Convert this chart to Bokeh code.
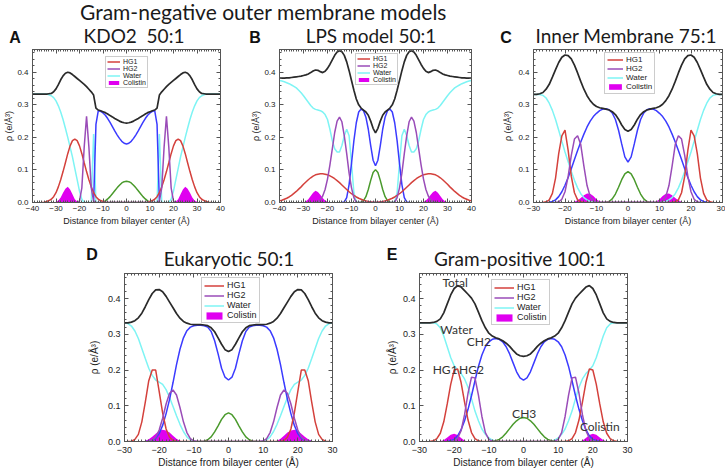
from bokeh.plotting import figure
from bokeh.models import (Range1d, SingleIntervalTicker, LinearAxis, PrintfTickFormatter,
                          Label, Legend, LegendItem, Div, Spacer)
from bokeh.layouts import column, row
from bokeh.embed import file_html
from bokeh.resources import INLINE

# ---------------------------------------------------------------------------
# Electron-density half profiles (symmetric about the bilayer centre).
# Each list is sampled every 1 Å starting at the given x0 (Å).
# ---------------------------------------------------------------------------
# Panel A : KDO2 50:1
A_TOTAL = (0, [0.244, 0.245, 0.247, 0.250, 0.254, 0.258, 0.263, 0.267, 0.272, 0.276, 0.279,
               0.282, 0.284, 0.290, 0.330, 0.340, 0.348, 0.356, 0.363, 0.369, 0.375, 0.381,
               0.387, 0.393, 0.398, 0.400, 0.397, 0.389, 0.377, 0.362, 0.349, 0.340, 0.335,
               0.334, 0.333, 0.333, 0.333, 0.333, 0.333, 0.333, 0.333])
A_CH2 = (0, [0.180, 0.182, 0.188, 0.197, 0.208, 0.220, 0.233, 0.246, 0.258, 0.268, 0.275,
             0.280, 0.282, 0.240, 0.0])
A_CH3 = (0, [0.065, 0.064, 0.060, 0.053, 0.045, 0.036, 0.027, 0.018, 0.011, 0.005, 0.002, 0.0])
A_HG1 = (9, [0.0, 0.003, 0.006, 0.010, 0.018, 0.030, 0.048, 0.070, 0.095, 0.122, 0.150, 0.174,
             0.190, 0.195, 0.190, 0.174, 0.150, 0.122, 0.095, 0.070, 0.048, 0.030, 0.018,
             0.010, 0.006, 0.003, 0.001, 0.0])
A_HG2 = (13, [0.0, 0.004, 0.045, 0.170, 0.265, 0.170, 0.045, 0.004, 0.0])
A_WATER = (12, [0.0, 0.0, 0.210, 0.0, 0.0, 0.0, 0.0, 0.010, 0.035, 0.070, 0.105, 0.140, 0.170,
                0.200, 0.228, 0.255, 0.278, 0.297, 0.312, 0.322, 0.328, 0.331, 0.333, 0.333,
                0.333, 0.333, 0.333, 0.333, 0.333])
A_COL = (20, [0.0, 0.003, 0.010, 0.025, 0.040, 0.048, 0.042, 0.030, 0.015, 0.006, 0.002, 0.0])

# Panel B : LPS model 50:1
B_TOTAL = (0, [0.214, 0.228, 0.250, 0.268, 0.278, 0.284, 0.290, 0.300, 0.318, 0.345, 0.375,
               0.405, 0.432, 0.452, 0.463, 0.466, 0.462, 0.452, 0.438, 0.424, 0.412, 0.403,
               0.399, 0.402, 0.406, 0.407, 0.404, 0.399, 0.395, 0.392, 0.390, 0.388, 0.387,
               0.386, 0.385, 0.384, 0.383, 0.383, 0.382, 0.382, 0.382])
B_CH2 = (0, [0.113, 0.130, 0.175, 0.225, 0.262, 0.282, 0.287, 0.278, 0.245, 0.190, 0.120,
             0.055, 0.015, 0.002, 0.0])
B_CH3 = (0, [0.101, 0.092, 0.068, 0.040, 0.018, 0.006, 0.001, 0.0])
B_HG1 = (0, [0.001, 0.001, 0.002, 0.003, 0.005, 0.007, 0.010, 0.013, 0.017, 0.022, 0.027,
             0.033, 0.040, 0.047, 0.054, 0.061, 0.067, 0.073, 0.078, 0.082, 0.085, 0.087,
             0.088, 0.088, 0.087, 0.085, 0.081, 0.076, 0.070, 0.063, 0.056, 0.048, 0.041,
             0.034, 0.028, 0.022, 0.017, 0.013, 0.010, 0.007, 0.005])
B_HG2 = (8, [0.0, 0.015, 0.045, 0.090, 0.150, 0.205, 0.248, 0.262, 0.250, 0.215, 0.165, 0.115,
             0.072, 0.040, 0.020, 0.008, 0.002, 0.0])
B_WATER = (7, [0.0, 0.002, 0.030, 0.120, 0.205, 0.225, 0.205, 0.175, 0.155, 0.155, 0.165,
               0.190, 0.225, 0.255, 0.270, 0.278, 0.282, 0.284, 0.286, 0.290, 0.298, 0.308,
               0.318, 0.328, 0.337, 0.345, 0.352, 0.357, 0.361, 0.365, 0.368, 0.371, 0.373,
               0.375])
B_COL = (19, [0.0, 0.002, 0.006, 0.014, 0.024, 0.032, 0.036, 0.030, 0.020, 0.010, 0.004, 0.001, 0.0])

# Panel C : Inner Membrane 75:1
C_TOTAL = (0, [0.219, 0.224, 0.238, 0.256, 0.270, 0.279, 0.284, 0.287, 0.289, 0.291, 0.295,
               0.302, 0.313, 0.328, 0.348, 0.372, 0.398, 0.422, 0.441, 0.451, 0.453, 0.446,
               0.430, 0.408, 0.385, 0.363, 0.348, 0.338, 0.334, 0.332, 0.332])
C_CH2 = (0, [0.124, 0.140, 0.180, 0.222, 0.255, 0.275, 0.285, 0.288, 0.287, 0.282, 0.274,
             0.264, 0.250, 0.232, 0.210, 0.186, 0.160, 0.132, 0.104, 0.077, 0.053, 0.033,
             0.018, 0.008, 0.003, 0.001, 0.0])
C_CH3 = (0, [0.095, 0.088, 0.070, 0.047, 0.026, 0.011, 0.003, 0.0])
C_HG1 = (14, [0.0, 0.002, 0.008, 0.030, 0.080, 0.160, 0.222, 0.205, 0.150, 0.075, 0.028,
              0.008, 0.002, 0.0])
C_HG2 = (10, [0.001, 0.005, 0.018, 0.052, 0.112, 0.178, 0.205, 0.195, 0.145, 0.080, 0.033,
              0.010, 0.002, 0.0])
C_WATER = (10, [0.0, 0.001, 0.003, 0.008, 0.015, 0.027, 0.045, 0.068, 0.095, 0.125, 0.155,
                0.188, 0.222, 0.255, 0.283, 0.305, 0.321, 0.329, 0.332, 0.332, 0.332])
C_COL = (8, [0.0, 0.003, 0.010, 0.020, 0.027, 0.028, 0.022, 0.014, 0.007, 0.002, 0.0])

# Panel D : Eukaryotic 50:1
D_TOTAL = (0, [0.252, 0.257, 0.272, 0.290, 0.307, 0.318, 0.324, 0.326, 0.327, 0.327, 0.327,
               0.328, 0.331, 0.336, 0.345, 0.358, 0.374, 0.390, 0.406, 0.419, 0.425, 0.424,
               0.414, 0.397, 0.377, 0.359, 0.346, 0.338, 0.334, 0.332, 0.332])
D_CH2 = (0, [0.172, 0.180, 0.205, 0.245, 0.282, 0.308, 0.320, 0.324, 0.325, 0.325, 0.324,
             0.320, 0.310, 0.290, 0.258, 0.215, 0.165, 0.118, 0.078, 0.045, 0.022, 0.009,
             0.003, 0.001, 0.0])
D_CH3 = (0, [0.080, 0.075, 0.062, 0.044, 0.027, 0.013, 0.005, 0.001, 0.0])
D_HG1 = (15, [0.0, 0.003, 0.012, 0.035, 0.080, 0.140, 0.200, 0.200, 0.170, 0.110, 0.055,
              0.020, 0.006, 0.001, 0.0])
D_HG2 = (9, [0.0, 0.002, 0.008, 0.025, 0.055, 0.095, 0.130, 0.144, 0.135, 0.105, 0.065,
             0.032, 0.012, 0.004, 0.001, 0.0])
D_WATER = (9, [0.0, 0.001, 0.004, 0.013, 0.028, 0.048, 0.072, 0.098, 0.123, 0.145, 0.160,
               0.166, 0.172, 0.185, 0.205, 0.232, 0.260, 0.288, 0.309, 0.323, 0.330, 0.332])
D_COL = (13, [0.0, 0.002, 0.008, 0.016, 0.025, 0.031, 0.033, 0.030, 0.022, 0.013, 0.006,
              0.002, 0.0])

# Panel E : Gram-positive 100:1
E_TOTAL = (0, [0.238, 0.240, 0.245, 0.255, 0.266, 0.275, 0.282, 0.287, 0.290, 0.295, 0.303,
               0.318, 0.338, 0.362, 0.385, 0.401, 0.412, 0.422, 0.432, 0.436, 0.428, 0.410,
               0.385, 0.360, 0.343, 0.336, 0.333, 0.332, 0.332, 0.332, 0.332])
E_CH2 = (0, [0.172, 0.178, 0.195, 0.220, 0.245, 0.265, 0.279, 0.286, 0.288, 0.286, 0.279,
             0.265, 0.242, 0.210, 0.170, 0.128, 0.090, 0.058, 0.033, 0.016, 0.006, 0.002, 0.0])
E_CH3 = (0, [0.067, 0.065, 0.058, 0.048, 0.036, 0.024, 0.013, 0.006, 0.002, 0.0])
E_HG1 = (12, [0.0, 0.002, 0.008, 0.025, 0.060, 0.110, 0.165, 0.203, 0.200, 0.160, 0.105,
              0.055, 0.023, 0.008, 0.002, 0.0])
E_HG2 = (8, [0.0, 0.001, 0.006, 0.025, 0.070, 0.130, 0.178, 0.180, 0.135, 0.075, 0.030,
             0.009, 0.002, 0.0])
E_WATER = (7, [0.0, 0.001, 0.004, 0.010, 0.020, 0.035, 0.058, 0.085, 0.120, 0.152, 0.175,
               0.190, 0.200, 0.212, 0.235, 0.265, 0.295, 0.318, 0.329, 0.332, 0.332, 0.332,
               0.332, 0.332])
E_COL = (16, [0.0, 0.003, 0.010, 0.018, 0.022, 0.019, 0.011, 0.004, 0.001, 0.0])

# In-plot annotations of panel E
E_NOTE_TEXT = ["Total", "Water", "CH2", "HG1", "HG2", "CH3", "Colistin"]
E_NOTE_X = [-19.7, -19.3, -12.9, -22.6, -15.0, 0.2, 22.0]
E_NOTE_Y = [0.446, 0.313, 0.280, 0.201, 0.201, 0.077, 0.043]

SUPTITLE = "Gram-negative outer membrane models"
LEGEND_LABELS = ["HG1", "HG2", "Water", "Colistin"]
X_LABEL = "Distance from bilayer center (Å)"
Y_LABEL = "ρ (e/Å³)"

COL = dict(hg1="#d4413c", hg2="#9a4cb8", water="#7ef4f4", ch2="#3b3bff",
           ch3="#4a9a2c", total="#2a2a2a", col="#e000f0")


def mirror(prof):
    x0, ys = prof
    xs = [x0 + i for i in range(len(ys))]
    if x0 == 0:
        fx = [-v for v in reversed(xs[1:])] + xs
        fy = list(reversed(ys[1:])) + list(ys)
    else:
        fx = [-v for v in reversed(xs)] + xs
        fy = list(reversed(ys)) + list(ys)
    return fx, fy


def hidden_axis(interval, minor):
    return LinearAxis(ticker=SingleIntervalTicker(interval=interval, num_minor_ticks=minor),
                      major_label_text_font_size="0px", major_label_text_color=None,
                      major_label_standoff=0,
                      major_tick_in=4, major_tick_out=0, minor_tick_in=2, minor_tick_out=0,
                      axis_line_color="#555555", major_tick_line_color="#555555",
                      minor_tick_line_color="#555555")


def make_panel(cfg):
    W, H, bl, br, bt, bb = cfg["geom"]
    xm = cfg["xmax"]
    small = cfg["small"]
    p = figure(width=W, height=H, x_range=Range1d(-xm, xm), y_range=Range1d(0, 0.47),
               output_backend="svg", toolbar_location=None,
               min_border_left=bl, min_border_right=br, min_border_top=bt,
               min_border_bottom=bb)
    p.xgrid.visible = False
    p.ygrid.visible = False
    p.outline_line_color = "#555555"
    p.outline_line_width = 1
    p.background_fill_color = "white"
    p.border_fill_color = "white"

    tick_fs = "8px" if small else "9px"
    lab_fs = "9px" if small else "10px"

    xa = p.xaxis[0]
    xa.ticker = SingleIntervalTicker(interval=10, num_minor_ticks=10)
    ya = p.yaxis[0]
    ya.ticker = SingleIntervalTicker(interval=0.1, num_minor_ticks=5)
    ya.formatter = PrintfTickFormatter(format="%.1f")
    for ax in (xa, ya):
        ax.major_tick_in = 4
        ax.major_tick_out = 0
        ax.minor_tick_in = 2
        ax.minor_tick_out = 0
        ax.axis_line_color = "#555555"
        ax.major_tick_line_color = "#555555"
        ax.minor_tick_line_color = "#555555"
        ax.major_label_text_font = "Liberation Sans"
        ax.major_label_text_font_size = tick_fs
        ax.major_label_text_color = "#222222"
        ax.axis_label_text_font = "Liberation Sans"
        ax.axis_label_text_font_style = "normal"
        ax.axis_label_text_font_size = lab_fs
        ax.axis_label_text_color = "#222222"
    xa.major_label_standoff = 3 if small else 5
    ya.major_label_standoff = 4
    xa.axis_label = X_LABEL
    xa.axis_label_standoff = 2 if small else 1
    ya.axis_label = Y_LABEL
    ya.axis_label_standoff = cfg["ylab_standoff"]

    p.add_layout(hidden_axis(10, 10), "above")
    p.add_layout(hidden_axis(0.1, 5), "right")

    lw = 1.5
    cx, cy = mirror(cfg["col"])
    r_col = p.varea(x=cx, y1=[0.0] * len(cx), y2=cy, fill_color=COL["col"], fill_alpha=1.0)
    x, y = mirror(cfg["water"])
    r_w = p.line(x, y, line_color=COL["water"], line_width=lw)
    x, y = mirror(cfg["ch3"])
    p.line(x, y, line_color=COL["ch3"], line_width=lw)
    x, y = mirror(cfg["ch2"])
    p.line(x, y, line_color=COL["ch2"], line_width=lw)
    x, y = mirror(cfg["hg1"])
    r_h1 = p.line(x, y, line_color=COL["hg1"], line_width=lw)
    x, y = mirror(cfg["hg2"])
    r_h2 = p.line(x, y, line_color=COL["hg2"], line_width=lw)
    x, y = mirror(cfg["total"])
    p.line(x, y, line_color=COL["total"], line_width=lw + 0.2)

    lf, gw, pad = cfg["legend_style"]
    items = [LegendItem(label=LEGEND_LABELS[0], renderers=[r_h1]),
             LegendItem(label=LEGEND_LABELS[1], renderers=[r_h2]),
             LegendItem(label=LEGEND_LABELS[2], renderers=[r_w]),
             LegendItem(label=LEGEND_LABELS[3], renderers=[r_col])]
    leg = Legend(items=items, location=cfg["legend_loc"],
                 label_text_font="Liberation Sans", label_text_font_size=lf,
                 label_text_color="#222222",
                 glyph_width=gw, glyph_height=int(gw * 0.45), label_height=6,
                 label_standoff=3, spacing=0, padding=pad, margin=0,
                 border_line_color="#999999", border_line_width=1,
                 background_fill_color="white", background_fill_alpha=1.0)
    p.add_layout(leg)
    return p


# geometry: (width, height, border left, right, top, bottom)
panels = {
    "A": dict(geom=(242, 190, 32, 22, 3, 34), xmax=40, small=True, ylab_standoff=0,
              total=A_TOTAL, ch2=A_CH2, ch3=A_CH3, hg1=A_HG1, hg2=A_HG2, water=A_WATER,
              col=A_COL, legend_style=("7px", 13, 1), legend_loc=(73, 114)),
    "B": dict(geom=(258, 190, 37, 29, 3, 34), xmax=40, small=True, ylab_standoff=0,
              total=B_TOTAL, ch2=B_CH2, ch3=B_CH3, hg1=B_HG1, hg2=B_HG2, water=B_WATER,
              col=B_COL, legend_style=("7px", 13, 1), legend_loc=(76, 117)),
    "C": dict(geom=(225, 190, 31, 3, 3, 34), xmax=30, small=True, ylab_standoff=2,
              total=C_TOTAL, ch2=C_CH2, ch3=C_CH3, hg1=C_HG1, hg2=C_HG2, water=C_WATER,
              col=C_COL, legend_style=("8px", 16, 2), legend_loc=(71, 108)),
    "D": dict(geom=(300, 201, 44, 48, 3, 30), xmax=30, small=False, ylab_standoff=5,
              total=D_TOTAL, ch2=D_CH2, ch3=D_CH3, hg1=D_HG1, hg2=D_HG2, water=D_WATER,
              col=D_COL, legend_style=("9px", 20, 2), legend_loc=(77, 118)),
    "E": dict(geom=(346, 201, 39, 99, 3, 30), xmax=30, small=False, ylab_standoff=2,
              total=E_TOTAL, ch2=E_CH2, ch3=E_CH3, hg1=E_HG1, hg2=E_HG2, water=E_WATER,
              col=E_COL, legend_style=("9px", 20, 2), legend_loc=(72, 116)),
}

figs = {k: make_panel(v) for k, v in panels.items()}

pE = figs["E"]
for t, xx, yy in zip(E_NOTE_TEXT, E_NOTE_X, E_NOTE_Y):
    pE.add_layout(Label(x=xx, y=yy, text=t, text_align="center", text_baseline="middle",
                        text_font="Lato", text_font_size="12px", text_color="#333333"))


# ---------------------------------------------------------------------------
# Header strips (super title, panel letters and panel titles) as HTML
# ---------------------------------------------------------------------------
def letter_html(txt, cx, top):
    return ('<div style="position:absolute;left:%dpx;top:%dpx;width:30px;text-align:center;'
            'font-family:\'Liberation Sans\';font-weight:bold;font-size:16px;line-height:16px;'
            'color:#111;">%s</div>' % (cx - 15, top, txt))


def title_html(txt, cx, top, size=19):
    return ('<div style="position:absolute;left:%dpx;top:%dpx;width:240px;text-align:center;'
            'font-family:Lato;font-size:%dpx;line-height:%dpx;white-space:nowrap;'
            'color:#1a1a1a;">%s</div>' % (cx - 120, top, size, size, txt))


top_html = ('<div style="position:relative;width:725px;height:46px;">'
            '<div style="position:absolute;left:80px;top:1px;font-family:Lato;font-size:21px;'
            'line-height:21px;white-space:nowrap;color:#1a1a1a;">' + SUPTITLE + '</div>'
            + letter_html("A", 15, 30) + title_html("KDO2&nbsp;&nbsp;50:1", 134, 26)
            + letter_html("B", 255, 30) + title_html("LPS model 50:1", 371, 26)
            + letter_html("C", 506, 30) + title_html("Inner Membrane 75:1", 626, 26)
            + '</div>')
bot_html = ('<div style="position:relative;width:725px;height:34px;">'
            + letter_html("D", 92, 11) + title_html("Eukaryotic 50:1", 229, 13)
            + letter_html("E", 392, 11) + title_html("Gram-positive 100:1", 520, 13)
            + '</div>')

top_div = Div(text=top_html, width=725, height=46, margin=0)
bot_div = Div(text=bot_html, width=725, height=34, margin=0)

layout = column(
    top_div,
    row(figs["A"], figs["B"], figs["C"], spacing=0),
    bot_div,
    row(Spacer(width=80, height=201), figs["D"], figs["E"], spacing=0),
    spacing=0,
)

with open("out.html", "w") as f:
    f.write(file_html(layout, INLINE))
